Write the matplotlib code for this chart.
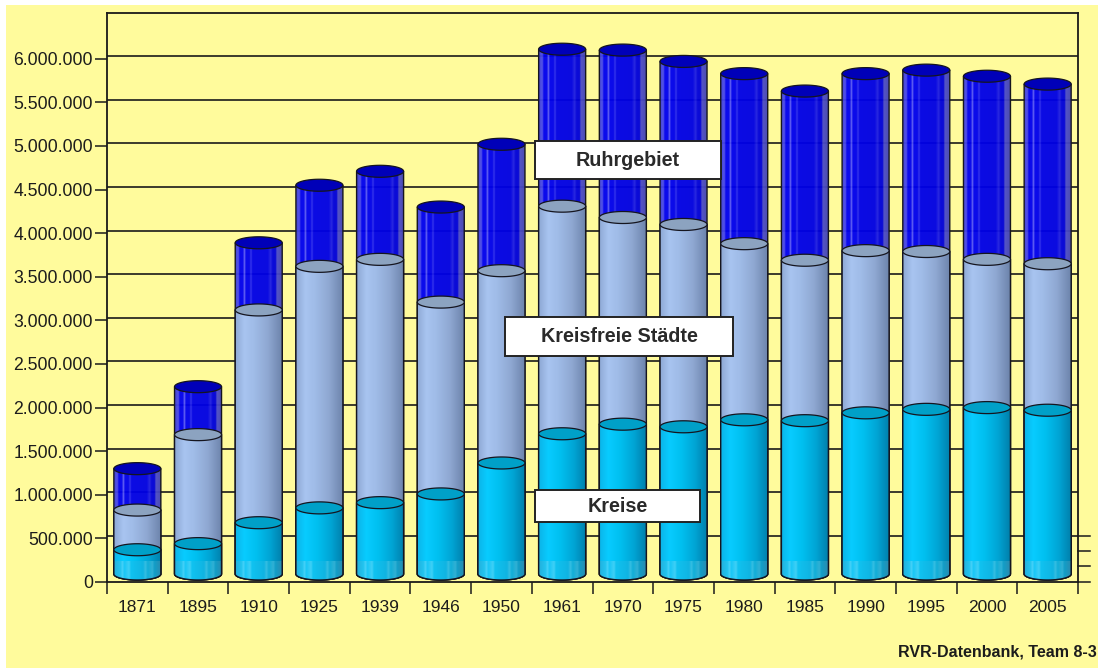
import numpy as np
import matplotlib
matplotlib.use("Agg")
import matplotlib.pyplot as plt
from matplotlib.colors import LinearSegmentedColormap
from matplotlib.patches import Polygon, Rectangle

plt.rcParams["font.family"] = ["Liberation Sans", "DejaVu Sans"]

years = ["1871", "1895", "1910", "1925", "1939", "1946", "1950", "1961",
         "1970", "1975", "1980", "1985", "1990", "1995", "2000", "2005"]

# upper edge of each stacked cylinder
kreise_top = [370000, 440000, 680000, 850000, 910000, 1010000, 1365000, 1700000,
              1810000, 1780000, 1860000, 1850000, 1940000, 1980000, 2000000, 1970000]
staedte_top = [825000, 1690000, 3120000, 3620000, 3700000, 3210000, 3570000, 4310000,
               4180000, 4100000, 3880000, 3690000, 3800000, 3790000, 3700000, 3650000]
ruhr_top = [1300000, 2240000, 3890000, 4550000, 4710000, 4300000, 5020000, 6110000,
            6100000, 5970000, 5830000, 5630000, 5830000, 5870000, 5800000, 5710000]

y_ticks = list(range(0, 6500000, 500000))
y_labels = ["0", "500.000", "1.000.000", "1.500.000", "2.000.000", "2.500.000", "3.000.000",
            "3.500.000", "4.000.000", "4.500.000", "5.000.000", "5.500.000", "6.000.000"]

W, H = 1098, 668
YELLOW = "#FFFB9C"
INK = "#1c1c1c"

# pixel geometry of the plot frame
LEFT, RIGHT, TOP, BOTTOM = 107, 1078, 13, 582
PX_PER_UNIT = 43.6 / 500000
GRID_SHIFT = 2.7 / PX_PER_UNIT
BASE = 8 / PX_PER_UNIT
CAP_H = 6 / PX_PER_UNIT
HALF_W = 23.5 / 60.7


def ramp(name, stops):
    return LinearSegmentedColormap.from_list(name, stops, N=256)


BLUE_BODY = ramp("blue", [(0, "#3c3cd8"), (0.07, "#4c4cec"), (0.10, "#0000f0"), (0.17, "#0000f0"),
                          (0.20, "#6a6af8"), (0.23, "#0000f0"), (0.31, "#0000ec"),
                          (0.34, "#3030f0"), (0.37, "#0000e8"), (0.70, "#0000e4"),
                          (0.76, "#2020e4"), (0.80, "#0000dc"), (0.87, "#0000d8"),
                          (0.89, "#4c4cc8"), (1, "#4444b4")])
CITY_BODY = ramp("city", [(0, "#8ea8d4"), (0.20, "#a8c4f0"), (0.40, "#a0bce8"),
                          (0.70, "#8fa8d2"), (1, "#6d84ac")])
KREIS_BODY = ramp("kreis", [(0, "#0cb4e8"), (0.20, "#08ccff"), (0.45, "#00c0f0"),
                            (0.75, "#00a4d4"), (1, "#0080ac")])
KREIS_BAND = ramp("band", [(0, "#22b0dc"), (0.14, "#22c4f0"), (0.18, "#48d2f8"), (0.22, "#18c6f6"),
                           (0.32, "#40d0f6"), (0.36, "#10c2f0"), (0.62, "#10b4e2"),
                           (0.67, "#36bee2"), (0.72, "#10aed8"), (0.82, "#32b0d4"),
                           (0.86, "#129ec8"), (1, "#2a8cb0")])


def body_outline(x, top):
    # straight sides down to the base, closed by the front half of the bottom ellipse
    theta = np.linspace(np.pi, 2 * np.pi, 40)
    bx = x + HALF_W * np.cos(theta)
    by = BASE + CAP_H * np.sin(theta)
    return np.column_stack([np.r_[x - HALF_W, bx, x + HALF_W], np.r_[top, by, top]])


def draw_cylinder(ax, x, top, cmap, cap_color, zorder, alpha=1.0, band=None):
    outline = Polygon(body_outline(x, top), closed=True, facecolor="none",
                      edgecolor="#15151f", lw=1.0, zorder=zorder + 0.2)
    ax.add_patch(outline)
    grad = np.linspace(0, 1, 256).reshape(1, -1)
    extent = (x - HALF_W, x + HALF_W, BASE - CAP_H, top)
    im = ax.imshow(grad, cmap=cmap, extent=extent, aspect="auto", origin="lower",
                   alpha=alpha, zorder=zorder, interpolation="bilinear")
    im.set_clip_path(outline)
    if band is not None:
        low = ax.imshow(grad, cmap=band, extent=(x - HALF_W, x + HALF_W, BASE - CAP_H, 240000),
                        aspect="auto", origin="lower", zorder=zorder + 0.1,
                        interpolation="bilinear")
        low.set_clip_path(outline)
    theta = np.linspace(0, 2 * np.pi, 80)
    cap = np.column_stack([x + HALF_W * np.cos(theta), top + CAP_H * np.sin(theta)])
    ax.add_patch(Polygon(cap, closed=True, facecolor=cap_color, edgecolor="#15151f",
                         lw=0.9, zorder=zorder + 0.3))


def label_box(fig, x0, y0, x1, y1, text):
    fig.add_artist(Rectangle((x0 / W, 1 - y1 / H), (x1 - x0) / W, (y1 - y0) / H,
                             transform=fig.transFigure, facecolor="white",
                             edgecolor="#222222", lw=1.4, zorder=20))
    fig.text((x0 + x1) / 2 / W, 1 - (y0 + y1) / 2 / H, text, ha="center", va="center",
             fontsize=14.2, fontweight="bold", color="#2a2a2a", zorder=21)


fig = plt.figure(figsize=(W / 100, H / 100), dpi=100, facecolor="white")
fig.add_artist(Rectangle((6 / W, 0), 1 - 6 / W, 1 - 5 / H, transform=fig.transFigure,
                         facecolor=YELLOW, edgecolor="none", zorder=-5))

ax = fig.add_axes([LEFT / W, 1 - BOTTOM / H, (RIGHT - LEFT) / W, (BOTTOM - TOP) / H])
ax.set_facecolor(YELLOW)

x_pos = np.arange(len(years))

# back wall lines sit slightly above their axis ticks
for tick in y_ticks[1:]:
    ax.axhline(tick + GRID_SHIFT, color="#1a1a1a", lw=1.2, zorder=1)

for i, x in enumerate(x_pos):
    draw_cylinder(ax, x, ruhr_top[i], BLUE_BODY, "#0000b8", 3 + i * 0.01, alpha=0.96)
    draw_cylinder(ax, x, staedte_top[i], CITY_BODY, "#8ca3c0", 4 + i * 0.01)
    draw_cylinder(ax, x, kreise_top[i], KREIS_BODY, "#00a0c8", 5 + i * 0.01, band=KREIS_BAND)

ax.set_xlim(-0.5, len(years) - 0.5)
ax.set_ylim(0, (BOTTOM - TOP) / PX_PER_UNIT)

ax.set_yticks(y_ticks)
ax.set_yticklabels(y_labels)
ax.tick_params(axis="y", direction="out", length=8.6, width=1.1, pad=1.5,
               labelsize=12.7, color="#1a1a1a", labelcolor=INK)
ax.set_xticks(np.arange(-0.5, len(years)))
ax.set_xticklabels([])
ax.tick_params(axis="x", which="major", direction="out", length=8.6, width=1.1, color="#1a1a1a")
ax.set_xticks(x_pos, minor=True)
ax.set_xticklabels(years, minor=True)
ax.tick_params(axis="x", which="minor", length=0, pad=13, labelsize=12.5, labelcolor=INK)

for side in ax.spines.values():
    side.set_linewidth(1.3)
    side.set_color("#1a1a1a")

# short stubs past the right edge of the frame
stub_trans = ax.get_yaxis_transform()
stub_end = 1 + 12 / (RIGHT - LEFT)
for value in [0, 178000, 350000, 500000 + GRID_SHIFT]:
    ax.plot([1, stub_end], [value, value], color="#1a1a1a", lw=1.1,
            transform=stub_trans, clip_on=False, zorder=2)

label_box(fig, 535, 141, 721, 179, "Ruhrgebiet")
label_box(fig, 505, 317, 733, 356, "Kreisfreie Städte")
label_box(fig, 535, 490, 700, 522, "Kreise")

fig.text(1097 / W, 1 - 652 / H, "RVR-Datenbank, Team 8-3", ha="right", va="center",
         fontsize=11.5, fontweight="bold", color=INK)

fig.savefig("out.png", dpi=100, facecolor=fig.get_facecolor())
